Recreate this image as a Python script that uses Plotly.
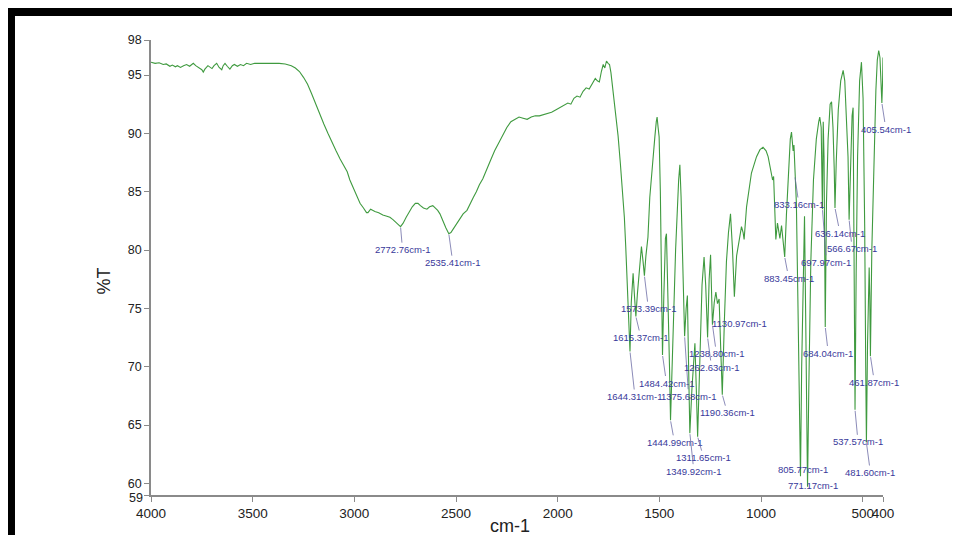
import numpy as np
import plotly.graph_objects as go

# ---------------- data ----------------
wavenumber = [
    4000, 3980, 3960, 3940, 3925, 3907, 3895, 3880, 3870, 3855, 3840, 3825, 3810, 3800,
    3792, 3780, 3765, 3750, 3743, 3735, 3720, 3710, 3700, 3690, 3677, 3665, 3652, 3645,
    3636, 3625, 3612, 3600, 3590, 3575, 3560, 3545, 3530, 3510, 3490, 3464, 3430, 3400,
    3370, 3340, 3310, 3290, 3270, 3250, 3230, 3210, 3190, 3170, 3150, 3130, 3110, 3090,
    3070, 3050, 3035, 3022, 3005, 2990, 2972, 2955, 2940, 2933, 2920, 2910, 2899, 2880,
    2860, 2840, 2825, 2810, 2795, 2785, 2772.76, 2760, 2745, 2730, 2715, 2700, 2687, 2675,
    2660, 2643, 2630, 2614, 2600, 2590, 2579, 2565, 2550, 2535.41, 2525, 2510, 2495, 2480,
    2465, 2446, 2430, 2415, 2400, 2385, 2368, 2350, 2330, 2310, 2290, 2270, 2250, 2230,
    2210, 2190, 2170, 2150, 2130, 2110, 2090, 2070, 2050, 2030, 2010, 1990, 1970, 1950,
    1935, 1920, 1905, 1890, 1875, 1860, 1845, 1830, 1815, 1805, 1795, 1785, 1776, 1768,
    1760, 1752, 1745, 1738, 1730, 1722, 1712, 1703, 1692, 1681, 1672, 1665, 1658, 1651,
    1644.31, 1638, 1629, 1622, 1615.37, 1608, 1603, 1596, 1588, 1580, 1573.39, 1566, 1556, 1547,
    1538, 1530, 1522, 1515, 1511, 1506, 1501, 1495, 1490, 1484.42, 1478, 1470, 1465, 1458,
    1450, 1444.99, 1435, 1420, 1405, 1399, 1393, 1385, 1375.68, 1368, 1362, 1356, 1349.92, 1340,
    1325, 1318, 1311.65, 1300, 1290, 1280, 1272, 1262.63, 1255, 1248, 1243, 1238.80, 1230, 1222,
    1214, 1206, 1198, 1190.36, 1180, 1170, 1160, 1150, 1140, 1130.97, 1120, 1110, 1096, 1088,
    1083, 1071, 1047, 1022, 1005, 990, 975, 965, 948, 943, 938, 932, 927, 919,
    912, 907, 899, 890, 883.45, 875, 865, 856, 850, 845, 842, 838, 833.16, 826,
    818, 811, 805.77, 800, 792, 786, 780, 776, 771.17, 765, 755, 742, 728, 716,
    711, 704, 697.97, 694, 690, 684.04, 678, 670, 660, 653, 646, 640, 636.14, 630,
    620, 608, 596, 588, 580, 577, 572, 566.67, 560, 552, 547, 542, 537.57, 532,
    525, 515, 506, 498, 490, 485, 481.60, 476, 470, 468, 465, 461.87, 455, 445,
    435, 428, 421, 415, 410, 405.54, 402, 400,
]
transmittance = [
    96.1, 96.0, 96.05, 95.9, 95.95, 95.75, 95.85, 95.7, 95.8, 95.65, 95.8, 95.9, 95.75, 95.9,
    96.0, 95.8, 95.65, 95.45, 95.25, 95.5, 95.8, 95.7, 95.55, 95.8, 96.0, 95.65, 95.45, 95.8,
    96.0, 95.75, 95.5, 95.8, 95.9, 95.75, 95.9, 95.8, 96.0, 95.9, 96.0, 96.0, 96.0, 96.05,
    96.0, 95.95, 95.8, 95.6, 95.3, 94.8, 94.2, 93.4, 92.5, 91.6, 90.8, 90.0, 89.2, 88.5,
    87.8, 87.2, 86.7, 86.0, 85.3, 84.7, 84.0, 83.6, 83.2, 83.2, 83.5, 83.4, 83.3, 83.2,
    83.0, 82.9, 82.8, 82.6, 82.4, 82.2, 82.0, 82.3, 82.8, 83.3, 83.7, 84.0, 84.0, 83.8,
    83.6, 83.5, 83.7, 83.8, 83.6, 83.4, 83.1, 82.5, 81.9, 81.4, 81.5, 81.9, 82.3, 82.8,
    83.1, 83.4, 83.9, 84.5, 85.0, 85.6, 86.1, 86.9, 87.7, 88.5, 89.2, 89.9, 90.5, 91.0,
    91.2, 91.4, 91.3, 91.2, 91.4, 91.5, 91.5, 91.6, 91.7, 91.8, 92.0, 92.2, 92.4, 92.6,
    92.5, 93.0, 93.2, 93.1, 93.6, 93.9, 93.8, 94.3, 94.7, 94.5, 94.4, 95.3, 95.9, 95.6,
    96.2, 96.0, 95.9, 95.2, 94.0, 92.6, 91.3, 89.8, 87.5, 85.1, 82.8, 80.2, 77.6, 74.8,
    71.3, 75.5, 78.0, 76.0, 74.3, 76.2, 77.4, 78.2, 80.3, 79.0, 77.8, 79.5, 81.1, 84.5,
    86.6, 88.3, 89.7, 91.0, 91.4, 90.5, 89.7, 85.0, 80.0, 71.0, 76.0, 81.0, 81.4, 77.0,
    70.0, 65.4, 72.0, 80.0, 86.0, 87.3, 84.5, 78.0, 72.6, 75.0, 76.1, 70.0, 64.3, 68.0,
    72.0, 68.0, 64.0, 71.0, 77.0, 79.4, 77.0, 72.5, 77.5, 79.6, 77.0, 73.6, 75.5, 76.4,
    75.4, 75.8, 71.5, 67.6, 74.0, 79.0, 81.5, 83.1, 80.0, 76.0, 79.5, 80.6, 82.0, 81.5,
    80.9, 83.7, 86.6, 88.0, 88.6, 88.8, 88.5, 88.0, 86.6, 86.0, 86.3, 82.3, 80.9, 82.3,
    81.6, 81.0, 82.1, 80.5, 79.4, 83.0, 87.0, 89.5, 90.1, 89.3, 88.5, 89.0, 86.3, 84.0,
    75.0, 65.0, 60.6, 70.0, 79.5, 82.9, 74.0, 65.0, 59.7, 68.0, 79.0, 86.0, 89.5, 91.0,
    91.4, 90.5, 83.5, 91.0, 88.0, 73.4, 84.0, 89.5, 92.5, 92.7, 90.5, 87.0, 83.6, 87.5,
    92.0, 94.5, 95.4, 94.5, 91.0, 90.3, 88.0, 82.6, 87.0, 91.5, 92.2, 82.0, 66.3, 78.0,
    88.0, 94.5, 96.1, 93.0, 82.0, 70.0, 63.5, 72.0, 77.5, 78.5, 76.0, 70.9, 80.0, 88.0,
    93.7, 96.3, 97.1, 96.5, 95.0, 92.6, 94.5, 96.5,
]

peak_wavenumbers = [
    2772.76, 2535.41, 1644.31, 1615.37, 1573.39, 1484.42, 1444.99, 1375.68, 1349.92,
    1311.65, 1262.63, 1238.80, 1190.36, 1130.97, 883.45, 833.16, 697.97, 684.04,
    636.14, 566.67, 537.57, 481.60, 461.87, 405.54,
]
peak_labels = [f"{w:.2f}cm-1" for w in peak_wavenumbers]

# label offsets from the peak (pixels: right, down)
label_offsets = [
    (2, 23), (4, 29), (5, 45), (5, 21), (4, 33), (4, 28), (4, 22), (4, 60), (4, 38),
    (6, 21), (4, 30), (4, 29), (5, 18), (5, 27), (4, 21), (4, 28), (4, 53), (3, 26),
    (5, 25), (3, 29), (3, 32), (4, 30), (4, 26), (4, 26),
]

plain_wavenumbers = [805.77, 771.17]
plain_labels = [f"{w:.2f}cm-1" for w in plain_wavenumbers]
plain_shifts = [(3, 7), (5, 1)]

x_ticks = [4000, 3500, 3000, 2500, 2000, 1500, 1000, 500, 400]
y_ticks = [59, 60, 65, 70, 75, 80, 85, 90, 95, 98]
y_axis_min = 59

# ---------------- figure ----------------
LINE_GREEN = "#3f9a3f"
LABEL_BLUE = "#38389a"
LEADER = "#6d6da6"
AXIS_GREY = "#8a8a8a"
FONT = "Liberation Sans, Arial, sans-serif"
LABEL_FONT = "Liberation Sans, Arial, sans-serif"

fig = go.Figure()
fig.add_trace(go.Scatter(
    x=wavenumber, y=transmittance, mode="lines",
    line=dict(color=LINE_GREEN, width=1.1), hoverinfo="skip", showlegend=False,
))

wn_asc = np.array(wavenumber[::-1], dtype=float)
t_asc = np.array(transmittance[::-1], dtype=float)

annotations = []
for w, lab, (dx, dy) in zip(peak_wavenumbers, peak_labels, label_offsets):
    t = float(np.interp(w, wn_asc, t_asc))
    annotations.append(dict(
        x=w, y=t, xref="x", yref="y", text=lab, showarrow=True,
        axref="pixel", ayref="pixel", ax=dx, ay=dy,
        arrowhead=0, arrowwidth=0.8, arrowcolor=LEADER, standoff=1,
        font=dict(family=LABEL_FONT, size=9.5, color=LABEL_BLUE),
    ))
for w, lab, (dx, dy) in zip(plain_wavenumbers, plain_labels, plain_shifts):
    t = float(np.interp(w, wn_asc, t_asc))
    annotations.append(dict(
        x=w, y=t, xref="x", yref="y", text=lab, showarrow=False,
        xshift=dx, yshift=dy,
        font=dict(family=LABEL_FONT, size=9.5, color=LABEL_BLUE),
    ))

# the lowest y tick label sits slightly below its tick, as in the original
annotations.append(dict(
    x=0, y=y_axis_min, xref="paper", yref="y", text=str(y_axis_min), showarrow=False,
    xanchor="right", yanchor="middle", xshift=-6, yshift=-2.5,
    font=dict(family=FONT, size=12.5, color="#222222"),
))

# axis titles
annotations.append(dict(
    x=-0.08, y=0.47, xref="paper", yref="paper", text="%T", showarrow=False,
    textangle=-90, font=dict(family=FONT, size=18, color="#222222"),
))
annotations.append(dict(
    x=0.49, y=-0.068, xref="paper", yref="paper", text="cm-1", showarrow=False,
    font=dict(family=FONT, size=18, color="#222222"), yanchor="middle",
))

# black frame (top and left) of the cropped original
shapes = [
    dict(type="rect", xref="paper", yref="paper", x0=-0.21, x1=1.12, y0=1.0527, y1=1.0703,
         fillcolor="black", line=dict(width=0), layer="above"),
    dict(type="rect", xref="paper", yref="paper", x0=-0.21, x1=-0.1858, y0=-0.1, y1=1.0703,
         fillcolor="black", line=dict(width=0), layer="above"),
]

# the page body adds an 8px margin, so the figure is sized 8px smaller
fig.update_layout(
    width=952, height=527,
    margin=dict(l=143, r=77, t=32, b=40),
    paper_bgcolor="white", plot_bgcolor="white",
    font=dict(family=FONT, size=13, color="#222222"),
    annotations=annotations, shapes=shapes, showlegend=False,
)
fig.update_xaxes(
    range=[4000, 400], tickvals=x_ticks, ticktext=[str(v) for v in x_ticks],
    tickangle=0,
    showgrid=False, zeroline=False, showline=True, linecolor=AXIS_GREY, linewidth=1.5,
    ticks="outside", ticklen=5, tickcolor=AXIS_GREY, tickwidth=1,
    tickfont=dict(family=FONT, size=13.5, color="#222222"),
)
fig.update_yaxes(
    range=[y_axis_min, 98], tickvals=y_ticks,
    ticktext=["" if v == y_axis_min else str(v) for v in y_ticks],
    showgrid=False, zeroline=False, showline=True, linecolor=AXIS_GREY, linewidth=1.5,
    ticks="outside", ticklen=5, tickcolor=AXIS_GREY, tickwidth=1,
    tickfont=dict(family=FONT, size=12.5, color="#222222"),
)

fig.write_html("out.html")
